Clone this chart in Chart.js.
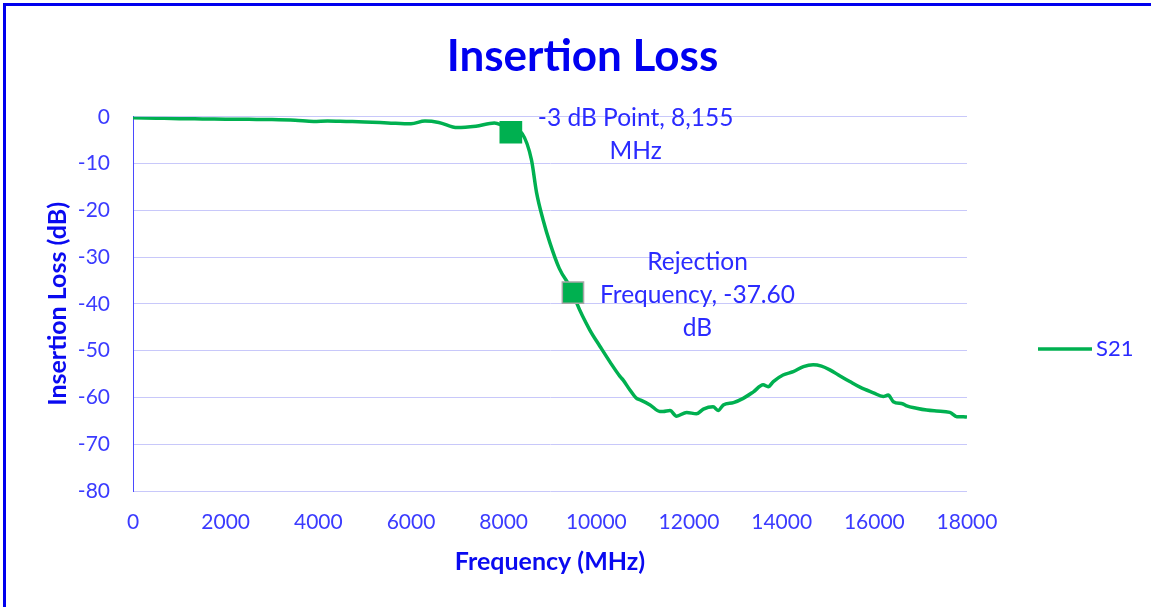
<!DOCTYPE html>
<html lang="en">
<head>
  <meta charset="UTF-8" />
  <title>Insertion Loss</title>
  <script src="https://cdn.jsdelivr.net/npm/chart.js"></script>
  <style>
    * { margin: 0; padding: 0; box-sizing: border-box; }
    body { width: 1151px; height: 607px; background: #fff; position: relative; overflow: hidden; }
    .chart-box { position: absolute; left: 0; top: 0; width: 1151px; height: 607px; }
    .frame {
      position: absolute; left: 3px; top: 3px; right: -10px; bottom: -10px;
      border-top: 3px solid #0000EE; border-left: 3px solid #0000EE;
      pointer-events: none;
    }
  </style>
</head>
<body>
  <div class="chart-box"><canvas id="lossChart" width="1151" height="607"></canvas></div>
  <div class="frame"></div>

  <script>
    // S21 sweep
    const freqMHz = [
      0, 500, 1000, 1500, 2000, 2500, 3000, 3500, 3900, 4200, 4600, 5000, 5500, 6000, 6300, 6600,
      7000, 7400, 7800, 8000, 8200, 8400, 8600, 8710, 8850, 9000, 9200, 9500, 9580, 9860, 10080,
      10300, 10510, 10580, 10725, 10870, 10940, 11160, 11370, 11440, 11590, 11730, 11950, 12160,
      12310, 12520, 12630, 12740, 12960, 13170, 13390, 13600, 13710, 13820, 14030, 14250, 14470,
      14680, 14860, 15040, 15260, 15470, 15690, 15980, 16190, 16300, 16410, 16620, 16700, 16910,
      17130, 17340, 17630, 17780, 17920, 18000
    ];
    const s21 = [
      -0.2, -0.3, -0.4, -0.45, -0.5, -0.55, -0.6, -0.75, -1.0, -0.9, -1.0, -1.1, -1.3, -1.5, -0.9, -1.2,
      -2.3, -2.0, -1.35, -1.9, -2.6, -3.6, -9.2, -16.2, -22, -27, -32.4, -37.6, -39.9, -45.6, -49.1,
      -52.5, -55.5, -56.3, -58.4, -60.2, -60.5, -61.6, -63.0, -63.0, -62.8, -64.0, -63.2, -63.5,
      -62.5, -62.0, -62.8, -61.6, -61.1, -60.2, -58.8, -57.3, -57.7, -56.6, -55.2, -54.5, -53.4,
      -53.0, -53.3, -54.1, -55.4, -56.6, -57.8, -59.0, -59.8, -59.5, -60.9, -61.4, -61.8, -62.3,
      -62.7, -62.9, -63.2, -64.1, -64.1, -64.2
    ];

    // marked points and their labels
    const markerFreq = [8155, 9495];
    const markerLoss = [-3.3, -37.6];
    const markerLabels = [
      ['-3 dB Point, 8,155', 'MHz'],
      ['Rejection', 'Frequency, -37.60', 'dB']
    ];

    const xTicks = [0, 2000, 4000, 6000, 8000, 10000, 12000, 14000, 16000, 18000];
    const yTicks = [0, -10, -20, -30, -40, -50, -60, -70, -80];

    const GREEN = '#00B050';
    const FONT = 'Lato';

    Chart.defaults.font.family = FONT;

    // labels to the right of each marker, centred on it
    const markerLabelPlugin = {
      id: 'markerLabels',
      afterDatasetsDraw(chart) {
        const meta = chart.getDatasetMeta(1);
        const ctx = chart.ctx;
        ctx.save();
        ctx.font = '24.5px ' + FONT;
        ctx.fillStyle = '#2B2BFF';
        ctx.textAlign = 'center';
        ctx.textBaseline = 'middle';
        meta.data.forEach((pt, i) => {
          const lines = markerLabels[i];
          const w = Math.max(...lines.map(l => ctx.measureText(l).width));
          const cx = pt.x + 27 + w / 2;
          lines.forEach((l, j) => {
            ctx.fillText(l, cx, pt.y + 2 + (j - (lines.length - 1) / 2) * 33);
          });
        });
        ctx.restore();
      }
    };

    // single-entry legend on the right
    const sideLegendPlugin = {
      id: 'sideLegend',
      afterDraw(chart) {
        const ds = chart.data.datasets[0];
        const area = chart.chartArea;
        const ctx = chart.ctx;
        const x0 = area.right + 71;
        const y = (area.top + area.bottom) / 2 + 45;
        ctx.save();
        ctx.strokeStyle = ds.borderColor;
        ctx.lineWidth = ds.borderWidth;
        ctx.beginPath();
        ctx.moveTo(x0, y);
        ctx.lineTo(x0 + 54, y);
        ctx.stroke();
        ctx.font = '22px ' + FONT;
        ctx.fillStyle = '#2B2BFF';
        ctx.textAlign = 'left';
        ctx.textBaseline = 'middle';
        ctx.fillText(ds.label, x0 + 58, y);
        ctx.restore();
      }
    };

    new Chart(document.getElementById('lossChart'), {
      type: 'scatter',
      data: {
        datasets: [
          {
            label: 'S21',
            data: freqMHz.map((f, i) => ({ x: f, y: s21[i] })),
            showLine: true,
            borderColor: GREEN,
            borderWidth: 3.5,
            pointRadius: 0,
            cubicInterpolationMode: 'monotone',
            order: 2
          },
          {
            label: 'markers',
            data: markerFreq.map((f, i) => ({ x: f, y: markerLoss[i] })),
            showLine: false,
            pointStyle: 'rect',
            pointRadius: 15,
            backgroundColor: GREEN,
            borderColor: [GREEN, '#A6A6A6'],
            borderWidth: 1.5,
            order: 1
          }
        ]
      },
      options: {
        responsive: false,
        animation: false,
        layout: { padding: { left: 14, right: 0, top: 0, bottom: 0 } },
        plugins: {
          legend: { display: false },
          tooltip: { enabled: false },
          title: {
            display: true,
            text: 'Insertion Loss',
            color: '#0000F0',
            font: { size: 44, weight: 'bold' },
            padding: { top: 30, bottom: 34 }
          }
        },
        scales: {
          x: {
            type: 'linear',
            min: 0,
            max: 18000,
            afterBuildTicks: axis => { axis.ticks = xTicks.map(v => ({ value: v })); },
            afterFit: axis => { axis.height = 116; },
            grid: { display: false, drawTicks: false },
            border: { display: false },
            ticks: {
              color: '#3B3BFF',
              font: { size: 21 },
              padding: 19,
              maxRotation: 0,
              autoSkip: false,
              callback: v => String(v)
            },
            title: {
              display: true,
              text: 'Frequency (MHz)',
              color: '#0A0AF0',
              font: { size: 25, weight: 'bold' },
              padding: { top: 0, bottom: 30 }
            }
          },
          y: {
            type: 'linear',
            min: -80,
            max: 0,
            afterBuildTicks: axis => { axis.ticks = yTicks.map(v => ({ value: v })); },
            afterFit: axis => { axis.width = 119; },
            grid: { color: '#C8C8FA', lineWidth: 1, drawTicks: false },
            border: { display: true, color: '#4A4AFF', width: 1 },
            ticks: {
              color: '#3B3BFF',
              font: { size: 21 },
              padding: 23,
              callback: v => String(v)
            },
            title: {
              display: true,
              text: 'Insertion Loss (dB)',
              color: '#0A0AF0',
              font: { size: 25, weight: 'bold' },
              padding: { top: 29, bottom: 0 }
            }
          },
          // empty band on the right that holds the legend
          legendBand: {
            type: 'linear',
            position: 'right',
            display: true,
            min: 0,
            max: 1,
            afterFit: axis => { axis.width = 184; },
            grid: { display: false, drawTicks: false },
            border: { display: false },
            ticks: { display: false }
          }
        }
      },
      plugins: [markerLabelPlugin, sideLegendPlugin]
    });
  </script>
</body>
</html>
